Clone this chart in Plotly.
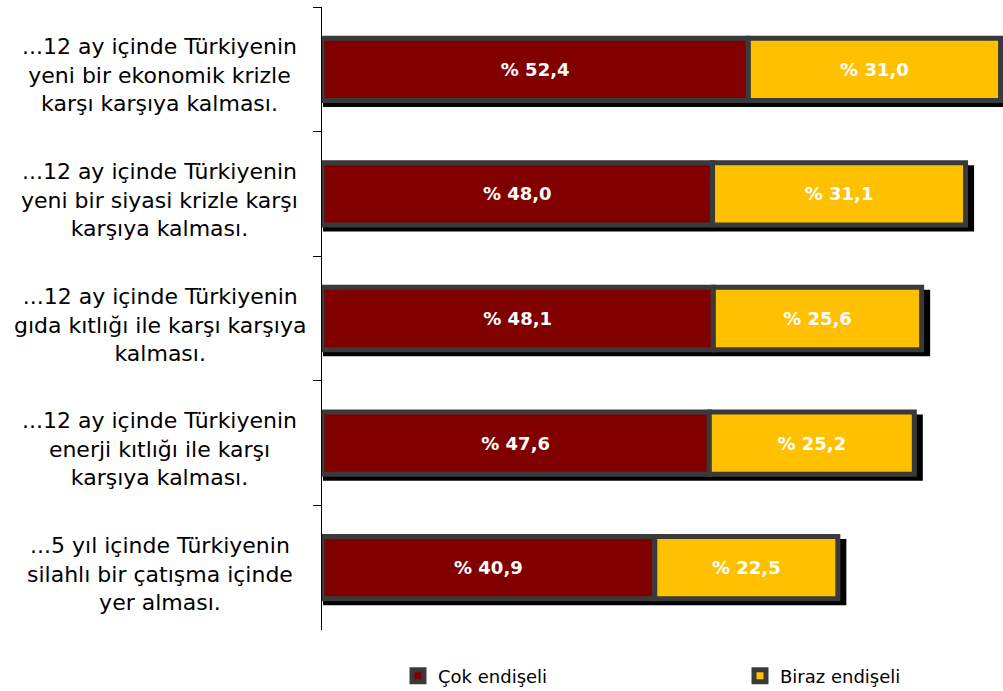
import plotly.graph_objects as go

categories = [
    "...12 ay içinde Türkiyenin<br>yeni bir ekonomik krizle<br>karşı karşıya kalması.",
    "...12 ay içinde Türkiyenin<br>yeni bir siyasi krizle karşı<br>karşıya kalması.",
    "...12 ay içinde Türkiyenin<br>gıda kıtlığı ile karşı karşıya<br>kalması.",
    "...12 ay içinde Türkiyenin<br>enerji kıtlığı ile karşı<br>karşıya kalması.",
    "...5 yıl içinde Türkiyenin<br>silahlı bir çatışma içinde<br>yer alması.",
]
cok_endiseli = [52.4, 48.0, 48.1, 47.6, 40.9]
biraz_endiseli = [31.0, 31.1, 25.6, 25.2, 22.5]
series_names = ["Çok endişeli", "Biraz endişeli"]

totals = [a + b for a, b in zip(cok_endiseli, biraz_endiseli)]

def fmt(v):
    return "% " + f"{v:.1f}".replace(".", ",")

FONT = "DejaVu Sans"
BORDER = "#3a3a3a"
BAR_W = 0.5
# drop-shadow styling (in axis units)
SHADOW_LEFT = 0.37
SHADOW_RIGHT = 0.8
SHADOW_DY = 0.036

fig = go.Figure()

# drop shadow
fig.add_trace(go.Bar(
    y=categories, x=[t + SHADOW_RIGHT - SHADOW_LEFT for t in totals],
    base=[SHADOW_LEFT] * len(totals), orientation="h",
    width=BAR_W, offset=-BAR_W / 2 + SHADOW_DY,
    marker=dict(color="black", line=dict(color="black", width=4)),
    showlegend=False, hoverinfo="skip",
))

fig.add_trace(go.Bar(
    y=categories, x=cok_endiseli, base=[0] * len(cok_endiseli), orientation="h",
    name=series_names[0], width=BAR_W, legend="legend",
    marker=dict(color="#800000", line=dict(color=BORDER, width=5)),
    text=[fmt(v) for v in cok_endiseli], textposition="inside",
    insidetextanchor="middle", textangle=0,
    textfont=dict(family=FONT, size=18, color="white", weight="bold"),
))

fig.add_trace(go.Bar(
    y=categories, x=biraz_endiseli, base=cok_endiseli, orientation="h",
    name=series_names[1], width=BAR_W, legend="legend2",
    marker=dict(color="#FFC000", line=dict(color=BORDER, width=5)),
    text=[fmt(v) for v in biraz_endiseli], textposition="inside",
    insidetextanchor="middle", textangle=0,
    textfont=dict(family=FONT, size=18, color="white", weight="bold"),
))

for c in categories:
    fig.add_annotation(
        x=-0.238, xref="paper", y=c, yref="y", text=c, showarrow=False,
        xanchor="center", yanchor="middle", align="center", yshift=-6,
        font=dict(family=FONT, size=22, color="black"),
    )

legend_common = dict(
    orientation="h", xanchor="left", yanchor="middle", y=-0.074,
    font=dict(family=FONT, size=18, color="black"),
    bgcolor="rgba(0,0,0,0)",
)

fig.update_layout(
    width=1003, height=691,
    margin=dict(l=322, r=0, t=7, b=61, autoexpand=False),
    barmode="overlay",
    plot_bgcolor="white", paper_bgcolor="white",
    font=dict(family=FONT, size=18, color="black"),
    legend=dict(x=0.1116, **legend_common),
    legend2=dict(x=0.6138, **legend_common),
    xaxis=dict(range=[0, 83.7], visible=False, fixedrange=True),
    yaxis=dict(
        autorange=False, range=[len(categories) - 0.5, -0.5],
        showticklabels=False, showline=True, linecolor="black", linewidth=1,
        ticks="outside", ticklen=8, tickcolor="black", tickwidth=1,
        tickson="boundaries", showgrid=False, zeroline=False, fixedrange=True,
    ),
)

fig.write_html(
    "out.html",
    config={"displayModeBar": False},
    post_script="document.body.style.margin='0';document.body.style.padding='0';",
)
